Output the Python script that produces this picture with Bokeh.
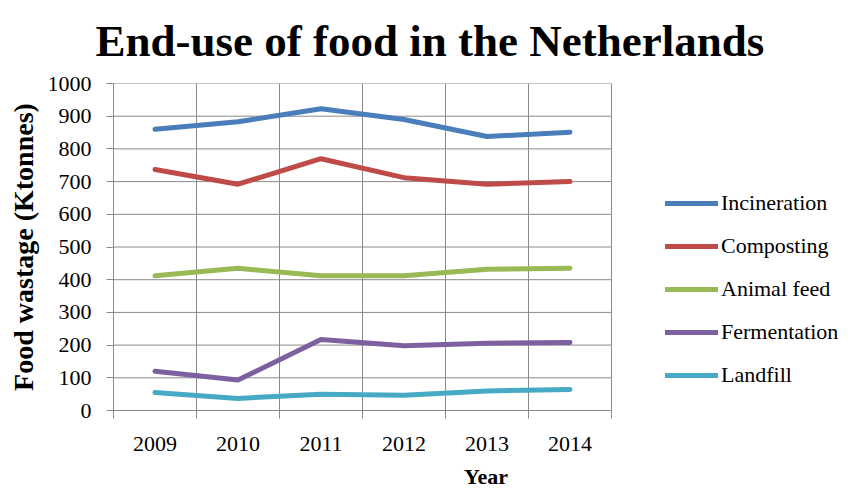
from bokeh.plotting import figure
from bokeh.models import Range1d, FixedTicker, Legend, LegendItem, Title
from bokeh.embed import file_html
from bokeh.resources import INLINE

years = [2009, 2010, 2011, 2012, 2013, 2014]
incineration = [860, 883, 923, 890, 838, 851]
composting = [737, 692, 770, 712, 692, 700]
animal_feed = [412, 435, 412, 412, 432, 435]
fermentation = [120, 93, 217, 198, 206, 208]
landfill = [55, 37, 50, 47, 60, 64]

series_names = ["Incineration", "Composting", "Animal feed", "Fermentation", "Landfill"]
series_values = [incineration, composting, animal_feed, fermentation, landfill]
colors = ["#4A7EBB", "#BE4B48", "#98B954", "#7D60A0", "#46AAC5"]
y_ticks = list(range(0, 1001, 100))

SERIF = "Liberation Serif"
GRID = "#8a8a8a"

# plot area spans the category boundaries; the frame is extended to the right
# so the legend can sit inside it
x_lo, x_hi = years[0] - 0.5, years[-1] + 0.5
PLOT_PX, FRAME_PX = 498, 745
x_end = x_lo + (x_hi - x_lo) * FRAME_PX / PLOT_PX

p = figure(width=858, height=491, output_backend="svg", toolbar_location=None,
           x_range=Range1d(x_lo, x_end), y_range=Range1d(0, 1000),
           min_border_left=113, min_border_right=0, min_border_top=83, min_border_bottom=77)
p.background_fill_color = "white"
p.border_fill_color = "white"
p.outline_line_color = None

title = Title(text="End-use of food in the Netherlands", align="left", vertical_align="top",
              text_font=SERIF, text_font_size="45px", text_font_style="bold",
              text_color="black", offset=-18, standoff=31)
p.add_layout(title, "above")

boundaries = [y - 0.5 for y in years] + [x_hi]
p.xaxis.ticker = FixedTicker(ticks=years, minor_ticks=boundaries)
p.xaxis.bounds = (x_lo, x_hi)
p.xaxis.major_tick_out = 0
p.xaxis.major_tick_in = 0
p.xaxis.minor_tick_out = 8
p.xaxis.minor_tick_in = 0
p.xaxis.minor_tick_line_color = GRID
p.xaxis.axis_line_color = GRID
p.xaxis.major_label_standoff = 18
p.xaxis.major_label_text_font = SERIF
p.xaxis.major_label_text_font_size = "22px"
p.xaxis.major_label_text_color = "black"
p.xaxis.axis_label = "Year"
p.xaxis.axis_label_text_font = SERIF
p.xaxis.axis_label_text_font_size = "22px"
p.xaxis.axis_label_text_font_style = "bold"
p.xaxis.axis_label_text_color = "black"
p.xaxis.axis_label_standoff = 10

p.yaxis.ticker = FixedTicker(ticks=y_ticks)
p.yaxis.major_tick_out = 7
p.yaxis.major_tick_in = 0
p.yaxis.minor_tick_line_color = None
p.yaxis.major_tick_line_color = GRID
p.yaxis.axis_line_color = GRID
p.yaxis.major_label_standoff = 15
p.yaxis.major_label_text_font = SERIF
p.yaxis.major_label_text_font_size = "22px"
p.yaxis.major_label_text_color = "black"
p.yaxis.axis_label = "Food wastage (Ktonnes)"
p.yaxis.axis_label_text_font = SERIF
p.yaxis.axis_label_text_font_size = "28px"
p.yaxis.axis_label_text_font_style = "bold"
p.yaxis.axis_label_text_color = "black"
p.yaxis.axis_label_standoff = 6

# vertical grid at category boundaries; horizontal grid limited to the plot area
p.xgrid.grid_line_color = None
p.xgrid.minor_grid_line_color = GRID
p.ygrid.grid_line_color = None
p.segment(x0=[x_lo] * len(y_ticks), x1=[x_hi] * len(y_ticks), y0=y_ticks, y1=y_ticks,
          line_color=GRID, line_width=1, level="underlay")

items = []
for name, vals, c in zip(series_names, series_values, colors):
    r = p.line(years, vals, line_color=c, line_width=5, line_cap="round", line_join="round")
    items.append(LegendItem(label=name, renderers=[r]))

legend = Legend(items=items, location=(552, 22), orientation="vertical",
                padding=0, margin=0, spacing=17, glyph_width=53, glyph_height=24,
                label_height=24, label_standoff=3, label_text_font=SERIF,
                label_text_font_size="22px", label_text_color="black",
                background_fill_alpha=0, border_line_color=None)
p.add_layout(legend, "center")

open("out.html", "w").write(file_html(p, INLINE))
